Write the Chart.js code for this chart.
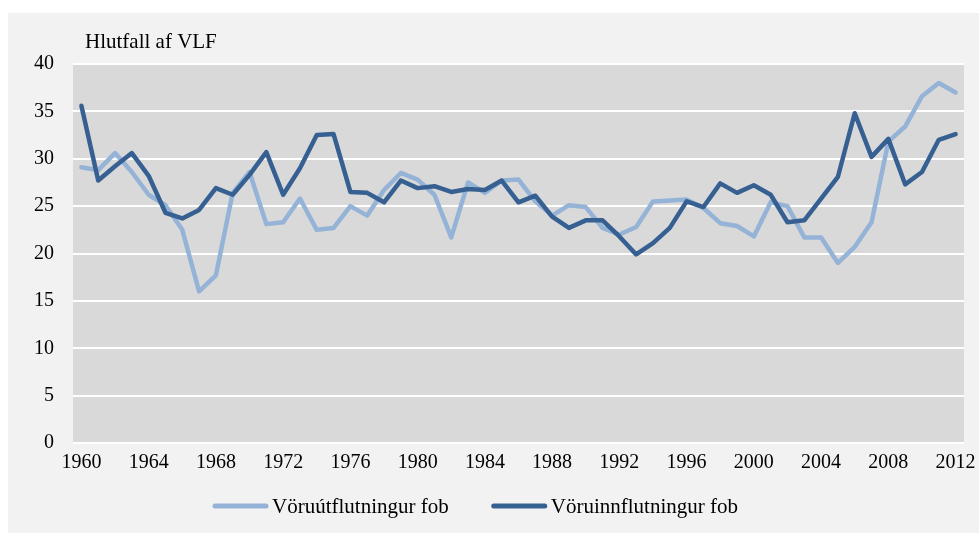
<!DOCTYPE html>
<html><head><meta charset="utf-8">
<script src="https://cdn.jsdelivr.net/npm/chart.js@4.4.1/dist/chart.umd.min.js"></script>
<style>html,body{margin:0;padding:0;background:#fff;}canvas{display:block;}</style>
</head><body>
<canvas id="c" width="979" height="533"></canvas>
<script>
const years = ['1960','1961','1962','1963','1964','1965','1966','1967','1968','1969',
  '1970','1971','1972','1973','1974','1975','1976','1977','1978','1979',
  '1980','1981','1982','1983','1984','1985','1986','1987','1988','1989',
  '1990','1991','1992','1993','1994','1995','1996','1997','1998','1999',
  '2000','2001','2002','2003','2004','2005','2006','2007','2008','2009',
  '2010','2011','2012'];
const exportsFob = [29.1,28.8,30.6,28.6,26.2,25.1,22.5,16.0,17.7,26.4,
  28.6,23.1,23.3,25.8,22.5,22.7,25.0,24.0,26.7,28.5,
  27.8,26.2,21.7,27.5,26.4,27.7,27.8,25.5,24.0,25.1,
  24.9,22.7,22.0,22.8,25.5,25.6,25.7,24.8,23.2,22.9,
  21.8,25.4,25.0,21.7,21.7,19.0,20.7,23.3,31.8,33.4,
  36.6,38.0,37.0];
const importsFob = [35.6,27.7,29.2,30.6,28.2,24.3,23.7,24.6,26.9,26.2,
  28.3,30.7,26.2,29.0,32.5,32.6,26.5,26.4,25.4,27.7,
  26.9,27.1,26.5,26.8,26.7,27.7,25.4,26.1,23.9,22.7,
  23.5,23.5,21.8,19.9,21.1,22.7,25.5,24.9,27.4,26.4,
  27.2,26.2,23.3,23.5,25.8,28.1,34.8,30.2,32.1,27.3,
  28.6,32.0,32.6];
const seriesNames = ['Vöruútflutningur fob','Vöruinnflutningur fob'];
const seriesColors = ['#95b3d7','#376092'];
const xTickLabels = ['1960','1964','1968','1972','1976','1980','1984','1988','1992','1996','2000','2004','2008','2012'];
const yMin = 0, yMax = 40, yStep = 5;
const axisTitle = 'Hlutfall af VLF';

const FONT = '"Liberation Serif", "Times New Roman", serif';

const decorPlugin = {
  id: 'decor',
  beforeDraw(chart) {
    const {ctx, chartArea: a} = chart;
    ctx.save();
    ctx.fillStyle = '#ffffff';
    ctx.fillRect(0, 0, chart.width, chart.height);
    ctx.fillStyle = '#f2f2f2';
    ctx.fillRect(8, 13, chart.width - 8, chart.height - 13);
    ctx.fillStyle = '#d9d9d9';
    ctx.fillRect(a.left, a.top, a.right - a.left, a.bottom - a.top);
    ctx.restore();
  },
  afterDraw(chart) {
    const ctx = chart.ctx;
    ctx.save();
    ctx.fillStyle = '#000';
    ctx.font = '21px ' + FONT;
    ctx.textBaseline = 'alphabetic';
    ctx.textAlign = 'left';
    ctx.fillText(axisTitle, 85, 48);
    // legend
    let x = 213;
    const y = 506;
    chart.data.datasets.forEach((ds) => {
      ctx.strokeStyle = ds.borderColor;
      ctx.lineWidth = 5;
      ctx.lineCap = 'round';
      ctx.beginPath();
      ctx.moveTo(x + 2, y);
      ctx.lineTo(x + 53, y);
      ctx.stroke();
      x += 59;
      ctx.fillStyle = '#000';
      ctx.fillText(ds.label, x, 513);
      x += ctx.measureText(ds.label).width + 43;
    });
    ctx.restore();
  }
};

new Chart(document.getElementById('c'), {
  type: 'line',
  data: {
    labels: years,
    datasets: [
      {label: seriesNames[0], data: exportsFob, borderColor: seriesColors[0], backgroundColor: seriesColors[0],
       borderWidth: 4.5, pointRadius: 0, tension: 0, borderJoinStyle: 'round', borderCapStyle: 'round', order: 1},
      {label: seriesNames[1], data: importsFob, borderColor: seriesColors[1], backgroundColor: seriesColors[1],
       borderWidth: 4.5, pointRadius: 0, tension: 0, borderJoinStyle: 'round', borderCapStyle: 'round', order: 0}
    ]
  },
  options: {
    responsive: false,
    animation: false,
    devicePixelRatio: 1,
    layout: {padding: {left: 0, top: 64, right: 15, bottom: 0}},
    plugins: {legend: {display: false}, tooltip: {enabled: false}},
    scales: {
      x: {
        type: 'category', offset: true,
        grid: {display: false, drawTicks: false},
        border: {display: false},
        ticks: {
          autoSkip: false, maxRotation: 0, minRotation: 0, padding: 8, color: '#000',
          font: {family: FONT, size: 20},
          callback(v) { const l = this.getLabelForValue(v); return xTickLabels.includes(l) ? l : ''; }
        },
        afterFit(s) { s.height = 90; s.paddingLeft = 0; s.paddingRight = 0; }
      },
      y: {
        min: yMin, max: yMax,
        ticks: {stepSize: yStep, padding: 19, color: '#000', font: {family: FONT, size: 20}},
        grid: {color: '#ffffff', lineWidth: 2, drawTicks: false},
        border: {display: false},
        afterFit(s) { s.width = 73; s.paddingTop = 0; s.paddingBottom = 0; }
      }
    }
  },
  plugins: [decorPlugin]
});
</script>
</body></html>
